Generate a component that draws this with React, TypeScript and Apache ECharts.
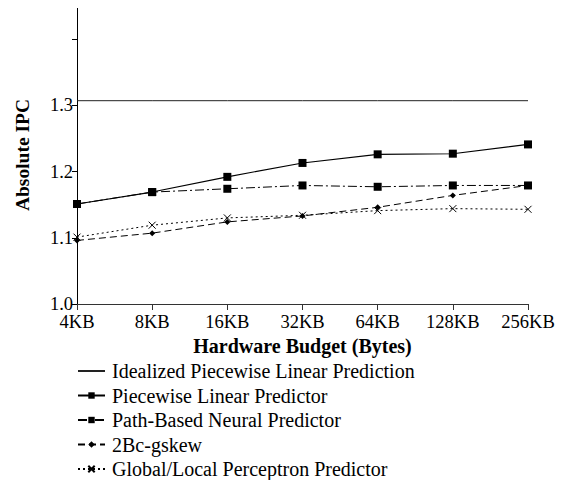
import React, { useEffect, useRef } from "react";
import * as echarts from "echarts";

const categories = ["4KB", "8KB", "16KB", "32KB", "64KB", "128KB", "256KB"];
const idealized = [1.307, 1.307, 1.307, 1.307, 1.307, 1.307, 1.307];
const piecewise = [1.151, 1.169, 1.192, 1.213, 1.226, 1.227, 1.241];
const pathBased = [1.151, 1.169, 1.174, 1.179, 1.177, 1.179, 1.179];
const gskew = [1.096, 1.107, 1.124, 1.133, 1.146, 1.164, 1.179];
const globalLocal = [1.101, 1.119, 1.130, 1.134, 1.141, 1.144, 1.143];
const yTicks = [1.0, 1.1, 1.2, 1.3, 1.4];
const yLabels = [1.0, 1.1, 1.2, 1.3];

const FONT = "'Liberation Serif', 'Times New Roman', 'DejaVu Serif', serif";
const CROSS = "path://M0,0L10,10M10,0L0,10";

export default function App() {
  const ref = useRef<HTMLDivElement>(null);
  useEffect(() => {
    if (!ref.current) return;
    const chart = echarts.init(ref.current, null, { renderer: "svg" });
    const black = "#000";
    chart.setOption({
      animation: false,
      backgroundColor: "#fff",
      textStyle: { fontFamily: FONT, color: black },
      grid: { left: 77, right: 37, top: 6, bottom: 176, containLabel: false },
      xAxis: {
        type: "category",
        data: categories,
        boundaryGap: false,
        axisLine: { lineStyle: { color: "#333", width: 1 } },
        axisTick: { alignWithLabel: true, length: 6, lineStyle: { color: "#333" } },
        axisLabel: { color: black, fontSize: 18.5, lineHeight: 15, fontFamily: FONT, margin: 10 },
        name: "Hardware Budget (Bytes)",
        nameLocation: "middle",
        nameGap: 27,
        nameTextStyle: { color: black, fontSize: 20, fontWeight: "bold", fontFamily: FONT },
      },
      yAxis: {
        type: "value",
        min: 1.0,
        max: 1.45,
        interval: 0.1,
        splitLine: { show: false },
        axisLine: { show: true, lineStyle: { color: black, width: 1 } },
        axisTick: { show: true, length: 5, lineStyle: { color: black }, customValues: yTicks },
        axisLabel: {
          color: black,
          fontSize: 18.5,
          lineHeight: 14,
          padding: [0, 0, 2, 0],
          fontFamily: FONT,
          margin: 4,
          customValues: yLabels,
          formatter: (v: number) => v.toFixed(1),
        },
        name: "Absolute IPC",
        nameLocation: "middle",
        nameGap: 45,
        nameTextStyle: { color: black, fontSize: 19.5, fontWeight: "bold", fontFamily: FONT },
      },
      legend: {
        orient: "vertical",
        left: 77,
        top: 361,
        height: 130,
        padding: 0,
        itemWidth: 27,
        itemHeight: 8,
        itemGap: 4.5,
        textStyle: { color: black, fontSize: 20, fontFamily: FONT, padding: [0, 0, 0, 2] },
        data: [
          { name: "Idealized Piecewise Linear Prediction", itemStyle: { opacity: 0 } },
          "Piecewise Linear Predictor",
          "Path-Based Neural Predictor",
          "2Bc-gskew",
          "Global/Local Perceptron Predictor",
        ],
      },
      series: [
        {
          name: "Idealized Piecewise Linear Prediction",
          type: "line",
          data: idealized,
          symbol: "none",
          lineStyle: { color: "#222", width: 1, type: "solid" },
          itemStyle: { color: "#222" },
        },
        {
          name: "Piecewise Linear Predictor",
          type: "line",
          data: piecewise,
          symbol: "rect",
          symbolSize: 8,
          lineStyle: { color: black, width: 1.1, type: "solid" },
          itemStyle: { color: black },
        },
        {
          name: "Path-Based Neural Predictor",
          type: "line",
          data: pathBased,
          symbol: "rect",
          symbolSize: 8,
          lineStyle: { color: black, width: 1, type: [9, 3, 2, 3] },
          itemStyle: { color: black },
        },
        {
          name: "2Bc-gskew",
          type: "line",
          data: gskew,
          symbol: "diamond",
          symbolSize: 6,
          lineStyle: { color: black, width: 1, type: [7, 4] },
          itemStyle: { color: black },
        },
        {
          name: "Global/Local Perceptron Predictor",
          type: "line",
          data: globalLocal,
          symbol: CROSS,
          symbolSize: 7,
          lineStyle: { color: black, width: 1, type: [2, 3] },
          itemStyle: { color: "none", borderColor: black, borderWidth: 1 },
        },
      ],
    });
    return () => chart.dispose();
  }, []);
  return <div ref={ref} style={{ width: 565, height: 480, marginLeft: -8, marginTop: -8 }} />;
}
